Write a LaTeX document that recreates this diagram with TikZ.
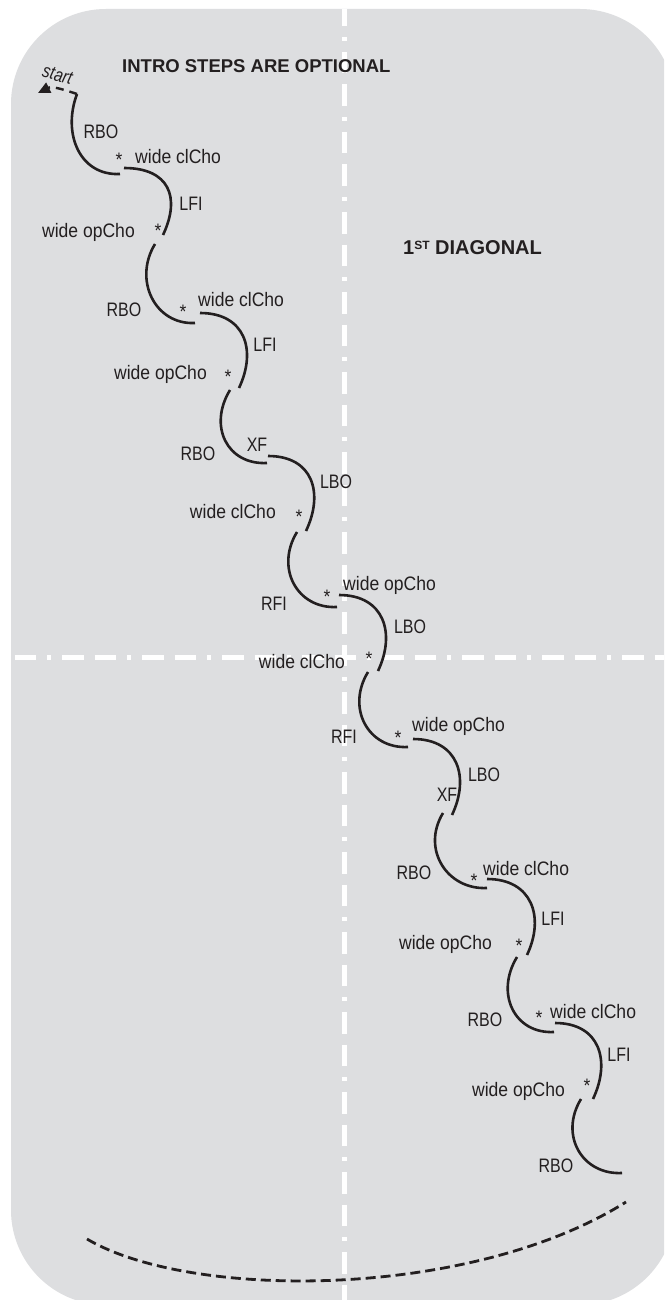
\documentclass[tikz,border=0pt]{standalone}
\usepackage{fontspec}
\setmainfont{Liberation Sans}
\newfontfamily\labA{Liberation Sans}[FakeStretch=0.82]
\newfontfamily\labB{Liberation Sans}[FakeStretch=0.9]
\usetikzlibrary{arrows.meta}
\definecolor{ink}{RGB}{35,31,32}
\definecolor{panel}{RGB}{221,222,224}
\tikzset{
  pathpiece/.style={draw=ink, line width=2.6pt},
  lab/.style={font=\labA\fontsize{19.5}{20}\selectfont, text=ink, inner sep=0pt, text height=13.4pt, text depth=0pt},
  labw/.style={font=\labB\fontsize{19.5}{20}\selectfont, text=ink, inner sep=0pt, text height=13.4pt, text depth=0pt},
  astr/.style={font=\labB\fontsize{19.5}{20}\selectfont, text=ink, inner sep=0pt, text height=22.8pt, text depth=0pt},
  head/.style={font=\bfseries\fontsize{18.5}{20}\selectfont, text=ink, inner sep=0pt, text height=12.7pt, text depth=0pt},
  guide/.style={white, line width=5pt, dash pattern=on 4pt off 11pt on 21.5pt off 11pt on 21.5pt off 11pt},
}
\begin{document}
\begin{tikzpicture}[x=1pt, y=-1pt]
\useasboundingbox (0,0) rectangle (664,1300);
\fill[white] (0,0) rectangle (664,1300);
\begin{scope}
\clip (0,0) rectangle (664,1300);
\fill[panel, rounded corners=95pt] (11,9) rectangle (675,1305);
\coordinate (vtop) at (344.5,9);
\coordinate (vbot) at (344.5,1302);
\coordinate (hl) at (11,657);
\coordinate (hr) at (666,657);
\draw[guide, dash phase=52pt] (vtop) -- (vbot);
\draw[guide, dash phase=44pt] (hl) -- (hr);
\end{scope}

% headings
\node[head, anchor=west] (intro) at (122,66) {INTRO STEPS ARE OPTIONAL};
\node[head, anchor=west, font=\bfseries\fontsize{20}{20}\selectfont, text height=13.8pt] (diag) at (403,248)
  {1{\fontsize{12}{12}\selectfont\raisebox{5.6pt}{ST}} DIAGONAL};
\node[font=\labA\itshape\fontsize{19}{19}\selectfont, text=ink, inner sep=0pt, rotate=-15] (start) at (57.5,75) {start};

% path end points
\coordinate (a1) at (77,94);    \coordinate (b1) at (120,174);
\coordinate (a2) at (124,168);  \coordinate (b2) at (163,235);
\coordinate (a3) at (155,244);  \coordinate (b3) at (195,323);
\coordinate (a4) at (200,313);  \coordinate (b4) at (239,388);
\coordinate (a5) at (230,390);  \coordinate (b5) at (267,463);
\coordinate (a6) at (268,456);  \coordinate (b6) at (306,531);
\coordinate (a7) at (297,532);  \coordinate (b7) at (337,607);
\coordinate (a8) at (339,595);  \coordinate (b8) at (378,671);
\coordinate (a9) at (368,672);  \coordinate (b9) at (408,747);
\coordinate (a10) at (413,739); \coordinate (b10) at (452,815);
\coordinate (a11) at (443,813); \coordinate (b11) at (487,888);
\coordinate (a12) at (487,879); \coordinate (b12) at (527,955);
\coordinate (a13) at (517,957); \coordinate (b13) at (554,1032);
\coordinate (a14) at (555,1023);\coordinate (b14) at (593,1099);
\coordinate (a15) at (581,1099);\coordinate (b15) at (622,1173);
\coordinate (st) at (38,93);
\coordinate (d1) at (87,1239);
\coordinate (d2) at (626,1202);

% start arrow
\draw[ink, line width=2.4pt, dash pattern=on 8pt off 6pt, -{Triangle[length=12pt, width=11pt]}]
  (a1) .. controls (62,89) and (52,86) .. (st);

% pieces
\draw[pathpiece] (a1) .. controls +(-15,40) and +(-40,2) .. (b1);
\draw[pathpiece] (a2) .. controls +(45,0) and +(18,-38) .. (b2);
\draw[pathpiece] (a3) .. controls +(-22,36) and +(-40,2) .. (b3);
\draw[pathpiece] (a4) .. controls +(45,0) and +(18,-38) .. (b4);
\draw[pathpiece] (a5) .. controls +(-22,36) and +(-40,2) .. (b5);
\draw[pathpiece] (a6) .. controls +(45,0) and +(18,-38) .. (b6);
\draw[pathpiece] (a7) .. controls +(-22,36) and +(-40,2) .. (b7);
\draw[pathpiece] (a8) .. controls +(45,0) and +(18,-38) .. (b8);
\draw[pathpiece] (a9) .. controls +(-22,36) and +(-40,2) .. (b9);
\draw[pathpiece] (a10) .. controls +(45,0) and +(18,-38) .. (b10);
\draw[pathpiece] (a11) .. controls +(-22,36) and +(-40,2) .. (b11);
\draw[pathpiece] (a12) .. controls +(45,0) and +(18,-38) .. (b12);
\draw[pathpiece] (a13) .. controls +(-22,36) and +(-40,2) .. (b13);
\draw[pathpiece] (a14) .. controls +(45,0) and +(18,-38) .. (b14);
\draw[pathpiece] (a15) .. controls +(-22,36) and +(-40,2) .. (b15);

% continuation
\draw[ink, line width=2.8pt, dash pattern=on 10pt off 5pt] (d1) .. controls (190,1300) and (470,1300) .. (d2);

% labels
\node[lab] (l1) at (101,132) {RBO};
\node[astr] (s1) at (119,155) {*};
\node[labw, anchor=west] (w1) at (135,157) {wide clCho};
\node[lab] (l2) at (191,204) {LFI};
\node[astr] (s2) at (158,226) {*};
\node[labw, anchor=east] (w2) at (135,231) {wide opCho};
\node[lab] (l3) at (124,310) {RBO};
\node[astr] (s3) at (183,307) {*};
\node[labw, anchor=west] (w3) at (198,300) {wide clCho};
\node[lab] (l4) at (265,345) {LFI};
\node[astr] (s4) at (228,372) {*};
\node[labw, anchor=east] (w4) at (207,373) {wide opCho};
\node[lab] (l5) at (198,454) {RBO};
\node[lab] (x5) at (257,445) {XF};
\node[lab] (l6) at (336,482) {LBO};
\node[astr] (s6) at (299,512) {*};
\node[labw, anchor=east] (w6) at (276,512) {wide clCho};
\node[lab] (l7) at (274,604) {RFI};
\node[astr] (s7) at (327,592) {*};
\node[labw, anchor=west] (w7) at (343,584) {wide opCho};
\node[lab] (l8) at (410,627) {LBO};
\node[astr] (s8) at (369,654) {*};
\node[labw, anchor=east] (w8) at (345,662) {wide clCho};
\node[lab] (l9) at (344,737) {RFI};
\node[astr] (s9) at (398,733) {*};
\node[labw, anchor=west] (w9) at (412,725) {wide opCho};
\node[lab] (l10) at (484,775) {LBO};
\node[lab] (x10) at (447,795) {XF};
\node[lab] (l11) at (414,873) {RBO};
\node[astr] (s11) at (474,876) {*};
\node[labw, anchor=west] (w11) at (483,869) {wide clCho};
\node[lab] (l12) at (553,919) {LFI};
\node[astr] (s12) at (519,941) {*};
\node[labw, anchor=east] (w12) at (492,943) {wide opCho};
\node[lab] (l13) at (485,1020) {RBO};
\node[astr] (s13) at (539,1013) {*};
\node[labw, anchor=west] (w13) at (550,1012) {wide clCho};
\node[lab] (l14) at (619,1055) {LFI};
\node[astr] (s14) at (587,1081) {*};
\node[labw, anchor=east] (w14) at (565,1090) {wide opCho};
\node[lab] (l15) at (556,1166) {RBO};
\end{tikzpicture}
\end{document}
